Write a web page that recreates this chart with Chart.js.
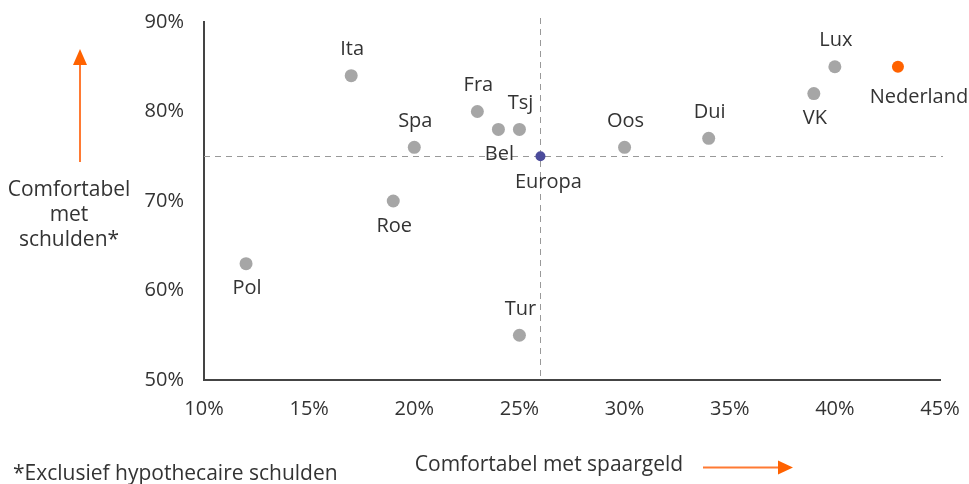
<!DOCTYPE html>
<html><head><meta charset="utf-8">
<script src="https://cdn.jsdelivr.net/npm/chart.js@4.4.1/dist/chart.umd.min.js"></script>
<style>html,body{margin:0;padding:0;background:#fff}#wrap{width:969px;height:484px}</style>
</head><body><div id="wrap"><canvas id="c" width="969" height="484"></canvas></div>
<script>
const countries = ["Ita","Fra","Tsj","Bel","Spa","Oos","Dui","Lux","VK","Roe","Pol","Tur"];
const savings   = [17, 23, 25, 24, 20, 30, 34, 40, 39, 19, 12, 25];
const debt      = [84, 80, 78, 78, 76, 76, 77, 85, 82, 70, 63, 55];
const labelPos  = ["above","above","above","below","above","above","above","above","below","below","below","above"];
const europe = {name:"Europa", savings:26, debt:75};
const nl = {name:"Nederland", savings:43, debt:85};
const xTicks = [10,15,20,25,30,35,40,45];
const yTicks = [50,60,70,80,90];

const FONT = "'Open Sans', sans-serif";
const TXT = "#333333";
const FS = 20;

const overlay = {
  id:"overlay",
  beforeDatasetsDraw(chart){
    const {ctx, chartArea:a, scales:{x,y}} = chart;
    ctx.save();
    ctx.strokeStyle="#999"; ctx.lineWidth=1; ctx.setLineDash([6,5]);
    const ey=Math.round(y.getPixelForValue(europe.debt))+0.5;
    const ex=Math.round(x.getPixelForValue(europe.savings))+0.5;
    ctx.beginPath(); ctx.moveTo(a.left,ey); ctx.lineTo(a.right+3,ey); ctx.stroke();
    ctx.beginPath(); ctx.moveTo(ex,a.top-4); ctx.lineTo(ex,a.bottom); ctx.stroke();
    ctx.restore();
  },
  afterDatasetsDraw(chart){
    const {ctx, scales:{x,y}} = chart;
    ctx.save();
    ctx.font = FS+"px "+FONT; ctx.fillStyle=TXT; ctx.textAlign="center"; ctx.textBaseline="middle";
    countries.forEach((c,i)=>{
      const px=x.getPixelForValue(savings[i]), py=y.getPixelForValue(debt[i]);
      ctx.fillText(c, px+1, labelPos[i]==="above"? py-26 : py+25);
    });
    ctx.fillText(europe.name, x.getPixelForValue(europe.savings)+8, y.getPixelForValue(europe.debt)+26);
    ctx.fillText(nl.name, x.getPixelForValue(nl.savings)+21, y.getPixelForValue(nl.debt)+31);
    // axis titles
    ctx.font = "21px "+FONT;
    ctx.fillText("Comfortabel", 69, 190);
    ctx.fillText("met", 69, 215);
    ctx.fillText("schulden*", 69, 240);
    ctx.fillText("Comfortabel met spaargeld", 549, 465);
    ctx.textAlign="left";
    ctx.fillText("*Exclusief hypothecaire schulden", 13, 474);
    // arrows
    ctx.strokeStyle="#ff7a33"; ctx.fillStyle="#ff6200"; ctx.lineWidth=2;
    ctx.beginPath(); ctx.moveTo(80,162); ctx.lineTo(80,62); ctx.stroke();
    ctx.beginPath(); ctx.moveTo(80,49); ctx.lineTo(73,65); ctx.lineTo(87,65); ctx.closePath(); ctx.fill();
    ctx.beginPath(); ctx.moveTo(703,467.5); ctx.lineTo(780,467.5); ctx.stroke();
    ctx.beginPath(); ctx.moveTo(793,467.5); ctx.lineTo(778,460.5); ctx.lineTo(778,474.5); ctx.closePath(); ctx.fill();
    ctx.restore();
  }
};

new Chart(document.getElementById("c"), {
  type:"scatter",
  data:{datasets:[
    {data:countries.map((c,i)=>({x:savings[i],y:debt[i]})), backgroundColor:"#a6a6a6", borderWidth:0, pointRadius:6.5, pointHoverRadius:6.5},
    {data:[{x:europe.savings,y:europe.debt}], backgroundColor:"#4b4b9b", borderWidth:0, pointRadius:5, pointHoverRadius:5},
    {data:[{x:nl.savings,y:nl.debt}], backgroundColor:"#ff6200", borderWidth:0, pointRadius:6, pointHoverRadius:6}
  ]},
  options:{
    responsive:false, animation:false, devicePixelRatio:1,
    layout:{padding:{top:22,right:29,left:0,bottom:0}},
    plugins:{legend:{display:false},tooltip:{enabled:false}},
    scales:{
      x:{type:"linear",min:10,max:45,
        afterBuildTicks(s){s.ticks=xTicks.map(v=>({value:v}));},
        afterFit(s){s.height=104; s.paddingLeft=0; s.paddingRight=0;},
        grid:{display:false,drawTicks:false},
        border:{display:true,color:"#444",width:2},
        ticks:{padding:17,color:TXT,font:{family:FONT,size:FS},callback:v=>v+"%",maxRotation:0}
      },
      y:{type:"linear",min:50,max:90,
        afterBuildTicks(s){s.ticks=yTicks.map(v=>({value:v}));},
        afterFit(s){s.width=204; s.paddingTop=0; s.paddingBottom=0;},
        grid:{display:false,drawTicks:false},
        border:{display:true,color:"#444",width:2},
        ticks:{padding:20,color:TXT,font:{family:FONT,size:FS},callback:v=>v+"%"}
      }
    }
  },
  plugins:[overlay]
});
</script></body></html>
